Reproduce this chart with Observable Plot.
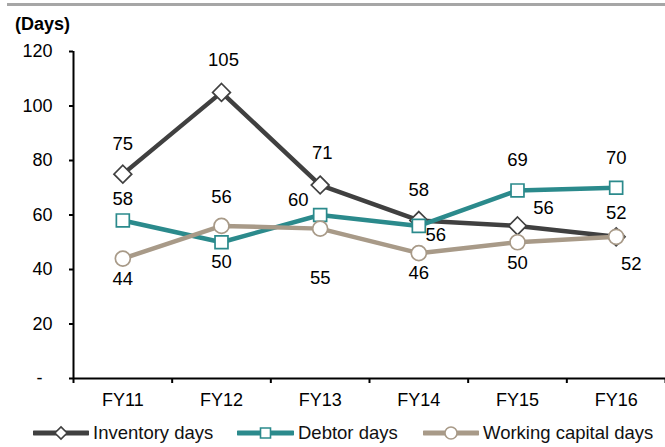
<!DOCTYPE html>
<html>
<head>
<meta charset="utf-8">
<script src="https://cdn.jsdelivr.net/npm/d3@7"></script>
<script src="https://cdn.jsdelivr.net/npm/@observablehq/plot@0.6"></script>
<style>
  html, body { margin: 0; padding: 0; background: #fff; }
  #wrap { position: relative; width: 665px; height: 447px; overflow: hidden;
          font-family: "Liberation Sans", Arial, sans-serif; }
  #topbar { position: absolute; left: 7px; top: 3px; width: 658px; height: 3px; background: #a6a6a6; }
  #unit { position: absolute; left: 15px; top: 14px; font-weight: bold; font-size: 18px; line-height: 20px; color: #000; }
  #legend { position: absolute; left: 0; top: 422px; width: 665px; height: 22px; font-size: 18.5px; color: #111; }
  .item { position: absolute; top: 0; height: 22px; display: flex; align-items: center; }
  .item svg { display: block; margin-right: 4px; }
  #chart { position: absolute; left: 0; top: 0; }
</style>
</head>
<body>
<div id="wrap">
  <div id="chart"></div>
  <div id="topbar"></div>
  <div id="unit">(Days)</div>
  <div id="legend"></div>
</div>
<script>
// ---- data ----
const years = ["FY11", "FY12", "FY13", "FY14", "FY15", "FY16"];
const inventoryDays = [75, 105, 71, 58, 56, 52];
const debtorDays = [58, 50, 60, 56, 69, 70];
const workingCapitalDays = [44, 56, 55, 46, 50, 52];
const seriesNames = ["Inventory days", "Debtor days", "Working capital days"];
const yTicks = [0, 20, 40, 60, 80, 100, 120];

// ---- style / layout config ----
const colors = ["#404040", "#2b8a8c", "#a89a88"];
const symbols = ["diamond2", "square", "circle"];
const dotR = [8, 7.3, 7.5];
// label nudges [dx, dy] per series, per year
const labelNudge = [
  [[0, -30], [2, -32], [2, -32], [0, -30], [26, -18], [15, 27]],
  [[0, -21], [0, 20], [-22, -15], [17, 9], [0, -30], [0, -30]],
  [[0, 20], [0, -29], [0, 49], [0, 20], [0, 21], [0, -24]]
];

const allSeries = [inventoryDays, debtorDays, workingCapitalDays];
const font = '"Liberation Sans", Arial, sans-serif';

const marks = [];
// axes
marks.push(Plot.axisY({ticks: yTicks, tickSize: 4, tickPadding: 17, fontSize: 18,
  tickFormat: d => d === 0 ? "-\u00a0\u00a0" : d, label: null, stroke: "#000", strokeWidth: 2, fill: "#000"}));
marks.push(Plot.axisX({ticks: d3.range(-0.5, 6, 1), tickSize: 5, tickFormat: () => "", label: null, stroke: "#000", strokeWidth: 2}));
marks.push(Plot.axisX({ticks: d3.range(0, 6), tickSize: 0, tickPadding: 15, fontSize: 18,
  tickFormat: i => years[i], label: null, fill: "#000"}));
marks.push(Plot.ruleX([-0.5], {y1: 0, y2: 120, stroke: "#000", strokeWidth: 2}));
marks.push(Plot.ruleY([0], {stroke: "#000", strokeWidth: 2}));

allSeries.forEach((vals, s) => {
  const rows = vals.map((v, i) => ({i, v}));
  marks.push(Plot.line(rows, {x: "i", y: "v", stroke: colors[s], strokeWidth: 4.5}));
  marks.push(Plot.dot(rows, {x: "i", y: "v", symbol: symbols[s], r: dotR[s], fill: "#fff", stroke: colors[s], strokeWidth: 1.7}));
});
allSeries.forEach((vals, s) => {
  vals.forEach((v, i) => {
    const [dx, dy] = labelNudge[s][i];
    marks.push(Plot.text([{i, v}], {x: "i", y: "v", text: d => String(d.v), dx, dy, fontSize: 18.5, fill: "#000"}));
  });
});

const chart = Plot.plot({
  width: 665, height: 447,
  marginTop: 51, marginBottom: 69, marginLeft: 73, marginRight: 0,
  style: {fontFamily: font, fontSize: "18px", background: "transparent", color: "#000"},
  x: {type: "linear", domain: [-0.5, 5.5]},
  y: {domain: [0, 120]},
  marks
});
document.getElementById("chart").appendChild(chart);

// ---- legend ----
const legendPos = [[33, 93], [237, 298], [423, 483]];
const legend = document.getElementById("legend");
seriesNames.forEach((name, s) => {
  const item = document.createElement("div");
  item.className = "item";
  item.style.left = legendPos[s][0] + "px";
  const w = legendPos[s][1] - legendPos[s][0] - 4;
  const svg = d3.create("svg").attr("width", w).attr("height", 22);
  svg.append("line").attr("x1", 1).attr("x2", w - 1).attr("y1", 11).attr("y2", 11)
    .attr("stroke", colors[s]).attr("stroke-width", 5).attr("stroke-linecap", "round");
  const sym = {diamond2: d3.symbolDiamond2, square: d3.symbolSquare, circle: d3.symbolCircle}[symbols[s]];
  const size = [95, 100, 115][s];
  svg.append("path").attr("d", d3.symbol(sym, size)()).attr("transform", `translate(${w / 2},11)`)
    .attr("fill", "#fff").attr("stroke", colors[s]).attr("stroke-width", 1.6);
  item.appendChild(svg.node());
  const span = document.createElement("span");
  span.textContent = name;
  item.appendChild(span);
  legend.appendChild(item);
});
</script>
</body>
</html>
